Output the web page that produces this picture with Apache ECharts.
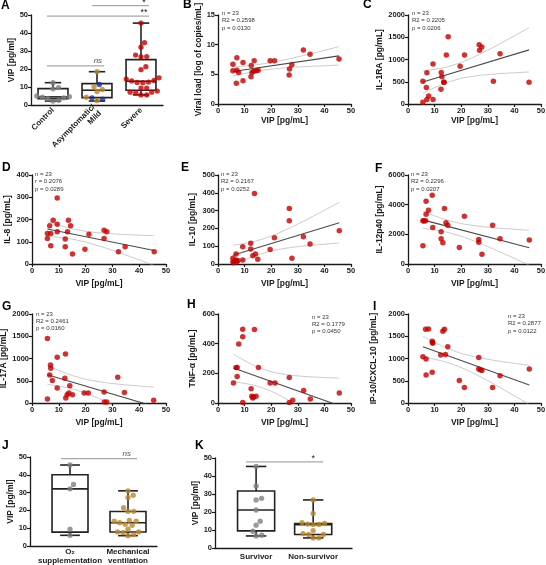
<!DOCTYPE html>
<html><head><meta charset="utf-8">
<script src="https://cdn.jsdelivr.net/npm/echarts@6/dist/echarts.min.js"></script>
<style>html,body{margin:0;padding:0;background:#fff}#c{width:546px;height:565px}</style>
</head><body><div id="c"></div>
<script>
// ================= DATA =================
// Panel A
const groupsA = ['Control', 'Asymptomatic/\nMild', 'Severe'];
const controlVIP = [12.4, 9.7, 9.0, 5.0, 4.6, 4.3, 4.0, 3.5, 2.6, 2.2];
const mildVIPgold = [18.5, 10.2, 8.6, 7.5, 4.3, 2.5];
const mildVIPblue = [11.4, 4.0, 3.2];
const severeVIP = [5.6, 5.6, 6.9, 7.1, 7.1, 7.75, 9.4, 9.4, 12.4, 12.5, 12.75, 13.4, 13.6, 14.4, 15.1, 19.6, 21.25, 26.75, 26.9, 27.75, 32.1, 34.6, 45.5];
// box stats: [min, Q1, median, Q3, max]
const boxA = [[2.2, 3.5, 4.5, 9.1, 12.4], [2.2, 4.1, 8.2, 11.9, 18.5], [5.6, 8.2, 13.2, 25.2, 45.5]];
const sigA = [
  {x1: 0.89, x2: 2.18, y: 55.2, lx: 2.07, text: '*'},
  {x1: -0.14, x2: 2.18, y: 49.4, lx: 2.07, text: '**'},
  {x1: -0.14, x2: 1.16, y: 21.7, lx: 1.02, text: 'ns', italic: true}
];
// Panel B
const vipB = [5.6, 5.6, 6.9, 7.1, 7.1, 7.75, 9.4, 9.4, 12.4, 12.5, 12.75, 13.6, 13.4, 14.4, 15.1, 19.6, 21.25, 26.9, 26.75, 27.75, 32.1, 34.6, 45.5];
const viralLoad = [6.7, 5.6, 3.5, 7.8, 5.7, 5.3, 7.0, 3.9, 4.6, 6.5, 5.3, 7.3, 5.5, 5.6, 5.7, 7.3, 7.3, 5.9, 4.9, 6.6, 9.1, 8.4, 7.6];
const statsB = ['n = 23', 'R2 = 0.2598', 'p = 0.0130'];
// Panel C
const vipC = [5.6, 5.6, 6.9, 7.1, 7.1, 7.75, 9.4, 9.4, 12.4, 12.5, 12.75, 13.4, 13.6, 14.4, 15.1, 19.6, 21.25, 26.75, 26.9, 27.75, 32.1, 34.6, 45.5];
const il1ra = [510, 40, 370, 700, 100, 180, 900, 100, 330, 710, 610, 490, 490, 1100, 1510, 850, 1100, 1330, 1210, 1280, 510, 1130, 490];
const statsC = ['n = 23', 'R2 = 0.2205', 'p = 0.0206'];
// Panel D
const vipD = [5.75, 5.75, 6.6, 7.0, 7.0, 7.9, 9.4, 9.4, 9.4, 12.4, 12.4, 13.25, 13.6, 14.4, 15.1, 19.75, 21.25, 26.9, 26.9, 27.9, 32.25, 34.75, 45.6];
const il8 = [137, 115, 172, 137, 82, 197, 297, 179, 145, 112, 78, 145, 197, 172, 45, 66, 134, 152, 115, 145, 55, 78, 55];
const statsD = ['n = 23', 'r = 0.2076', 'p = 0.0289'];
// Panel E
const vipE = [5.6, 5.6, 5.95, 6.6, 6.8, 7.1, 7.45, 9.3, 9.3, 12.3, 12.3, 13.1, 14.1, 13.7, 14.95, 19.6, 21.2, 26.8, 26.8, 27.8, 32.1, 34.6, 45.6];
const il10 = [32, 13, 7, 22, 56, 13, 19, 97, 22, 116, 84, 47, 56, 396, 26, 82, 147, 312, 243, 32, 153, 112, 187];
const statsE = ['n = 23', 'R2 = 0.2167', 'p = 0.0252'];
// Panel F
const vipF = [5.6, 5.6, 6.0, 6.6, 6.8, 6.8, 7.7, 9.1, 9.3, 12.45, 12.45, 13.1, 13.7, 14.3, 14.95, 19.3, 21.2, 26.6, 26.6, 27.8, 31.8, 34.6, 45.6];
const il12p40 = [1230, 2910, 2900, 2910, 3360, 4230, 3630, 4630, 2460, 2170, 1700, 1430, 3740, 2780, 2620, 1120, 3220, 1660, 1460, 650, 2620, 1700, 1610];
const statsF = ['n = 23', 'R2 = 0.2296', 'p = 0.0207'];
// Panel G
const vipG = [5.75, 5.75, 6.6, 6.9, 7.0, 7.6, 9.4, 9.4, 12.25, 12.5, 12.6, 13.1, 13.75, 14.1, 15.1, 19.5, 21.0, 26.9, 27.0, 27.9, 32.0, 34.5, 45.4];
const il17a = [1450, 90, 632, 855, 780, 505, 1026, 335, 557, 1100, 112, 186, 223, 387, 186, 223, 223, 245, 22, 22, 580, 238, 60];
const statsG = ['n = 23', 'R2 = 0.2461', 'p = 0.0160'];
// Panel H
const vipH = [5.8, 6.8, 7.2, 7.2, 7.8, 9.3, 9.3, 9.3, 12.45, 12.7, 13.1, 13.3, 13.7, 14.3, 15.2, 19.6, 21.45, 26.8, 26.8, 28.1, 32.2, 34.7, 45.6];
const tnfa = [134, 239, 239, 179, 397, 498, 446, 3, 96, 45, 33, 40, 496, 45, 239, 134, 134, 172, 4, 18, 85, 27, 67];
const statsH = ['n = 23', 'R2 = 0.1779', 'p = 0.0450'];
// Panel I
const vipI = [5.6, 6.6, 6.8, 6.8, 7.7, 9.1, 9.2, 9.3, 9.1, 12.3, 13.1, 13.7, 14.1, 14.95, 19.3, 21.2, 26.6, 26.6, 27.2, 27.8, 31.8, 34.6, 45.6];
const ip10 = [1040, 1660, 990, 630, 1665, 1390, 1360, 1340, 690, 1080, 1610, 1660, 1090, 1265, 505, 350, 1020, 765, 750, 730, 350, 610, 765];
const statsI = ['n = 23', 'R2 = 0.2877', 'p = 0.0122'];
// Panel J
const groupsJ = ['O\u2082\nsupplementation', 'Mechanical\nventilation'];
const o2VIP = [45.5, 34.6, 32.1, 9.5, 6.0];
const mechVIP = [31.0, 28.5, 27.2, 21.5, 19.5, 19.5, 14.4, 13.9, 13.9, 13.1, 12.2, 11.6, 9.4, 7.9, 7.9, 7.5, 6.4, 5.8];
const boxJ = [[6.0, 7.8, 32.1, 40.0, 45.5], [5.8, 7.9, 13.1, 19.4, 31.0]];
const sigJ = [{x1: -0.155, x2: 1.155, y: 49.1, lx: 0.98, text: 'ns', italic: true}];
// Panel K
const groupsK = ['Survivor', 'Non-survivor'];
const survivorVIP = [45.3, 34.5, 27.6, 26.7, 21.1, 14.9, 12.7, 9.3, 7.1, 6.7];
const nonSurvivorVIP = [26.7, 19.2, 14.1, 13.6, 13.3, 13.1, 13.1, 9.7, 8.0, 7.5, 7.5, 5.6, 5.6];
const boxK = [[6.7, 9.5, 21.1, 31.7, 45.3], [5.6, 7.5, 12.9, 13.6, 26.7]];
const sigK = [{x1: -0.175, x2: 1.175, y: 47.9, lx: 1.0, text: '*'}];

// ================= STYLE / LAYOUT =================
const FONT = '"Liberation Sans", Arial, Helvetica, sans-serif';
const INK = '#1a1a1a';
const RED = '#c00000', GRAY = '#7f7f7f', GOLD = '#b8862b', BLUE = '#1f2d9b';
const CI = '#c4c4c4';
const LAYOUT = {
  A: {left: 31, top: 15, width: 132, height: 90},
  B: {left: 218, top: 15, width: 133, height: 89},
  C: {left: 408, top: 15, width: 133, height: 89},
  D: {left: 32, top: 175, width: 134, height: 89},
  E: {left: 218, top: 175, width: 133, height: 89},
  F: {left: 408, top: 175, width: 133, height: 89},
  G: {left: 32, top: 314, width: 134, height: 89},
  H: {left: 218, top: 314, width: 133, height: 89},
  I: {left: 408, top: 314, width: 133, height: 89},
  J: {left: 30, top: 457, width: 127, height: 89},
  K: {left: 215, top: 458, width: 137, height: 90}
};
const LETTERS = [['A', 1, 0], ['B', 183, -1], ['C', 363, -1], ['D', 2, 162], ['E', 181, 162], ['F', 375, 163],
  ['G', 2, 301], ['H', 187, 299], ['I', 373, 301], ['J', 2, 440], ['K', 195, 440]];

function merge(a, b) {
  const out = Array.isArray(a) ? a.slice() : Object.assign({}, a);
  for (const k in b) {
    if (b[k] && typeof b[k] === 'object' && !Array.isArray(b[k]) && a && typeof a[k] === 'object') out[k] = merge(a[k], b[k]);
    else out[k] = b[k];
  }
  return out;
}
function axisBase() {
  return {
    axisLine: {show: true, onZero: false, lineStyle: {color: INK, width: 1.3}},
    axisTick: {show: true, length: 3, lineStyle: {color: INK, width: 1.2}},
    axisLabel: {color: INK, fontSize: 7.5, fontWeight: 'bold', fontFamily: FONT, margin: 3, formatter: v => String(v)},
    splitLine: {show: false},
    nameTextStyle: {color: INK, fontSize: 8.5, fontWeight: 'bold', fontFamily: FONT}
  };
}

const grids = [], xAxes = [], yAxes = [], series = [], post = [];
function addGrid(l) {
  grids.push({left: l.left, top: l.top, width: l.width, height: l.height, containLabel: false, outerBoundsMode: 'none'});
  return grids.length - 1;
}

function fit(xs, ys) {
  const n = xs.length;
  const mx = xs.reduce((s, v) => s + v, 0) / n, my = ys.reduce((s, v) => s + v, 0) / n;
  let sxx = 0, sxy = 0;
  for (let i = 0; i < n; i++) { sxx += (xs[i] - mx) ** 2; sxy += (xs[i] - mx) * (ys[i] - my); }
  const b = sxy / sxx, a = my - b * mx;
  let sse = 0;
  for (let i = 0; i < n; i++) sse += (ys[i] - a - b * xs[i]) ** 2;
  const s = Math.sqrt(sse / (n - 2)), t = 2.0796;
  const xsU = Array.from(new Set(xs)).sort((p, q) => p - q);
  const half = x => t * s * Math.sqrt(1 / n + (x - mx) ** 2 / sxx);
  return {
    line: [[xsU[0], a + b * xsU[0]], [xsU[xsU.length - 1], a + b * xsU[xsU.length - 1]]],
    upper: xsU.map(x => [x, a + b * x + half(x)]),
    lower: xsU.map(x => [x, a + b * x - half(x)])
  };
}

function scatterPanel(key, xs, ys, cfg) {
  const i = addGrid(LAYOUT[key]);
  xAxes.push(merge(axisBase(), {gridIndex: i, type: 'value', min: 0, max: 50, interval: 10,
    name: 'VIP [pg/mL]', nameLocation: 'middle', nameGap: cfg.xGap}));
  yAxes.push(merge(axisBase(), {gridIndex: i, type: 'value', min: 0, max: cfg.ymax, interval: cfg.yint,
    name: cfg.yname, nameLocation: 'middle', nameGap: cfg.yGap}));
  const f = fit(xs, ys);
  const common = {type: 'line', xAxisIndex: i, yAxisIndex: i, showSymbol: false, symbol: 'none', silent: true, clip: true};
  series.push(Object.assign({}, common, {data: f.upper, smooth: 0.4, lineStyle: {color: CI, width: 0.9}, z: 2}));
  series.push(Object.assign({}, common, {data: f.lower, smooth: 0.4, lineStyle: {color: CI, width: 0.9}, z: 2}));
  series.push(Object.assign({}, common, {data: f.line, lineStyle: {color: '#4a4a4a', width: 1.1}, z: 3}));
  series.push({type: 'scatter', xAxisIndex: i, yAxisIndex: i, symbolSize: 5.5, silent: true,
    itemStyle: {color: RED}, z: 5, data: xs.map((x, k) => [x, ys[k]])});
  post.push({type: 'text', x: cfg.sx, y: cfg.sy, style: {text: cfg.stats.join('\n'), fontSize: 6, lineHeight: 7.2,
    fontFamily: FONT, fill: '#333', align: 'left', verticalAlign: 'top'}});
}

function swarm(values, colors, pxY, pxX, r) {
  const items = values.map((v, k) => ({v, c: colors[k], y: v * pxY})).sort((p, q) => p.v - q.v);
  const placed = [];
  const d = 2 * r;
  for (const it of items) {
    const cands = [0];
    for (const p of placed) {
      const dy = Math.abs(p.y - it.y);
      if (dy < d) { const dx = Math.sqrt(d * d - dy * dy); cands.push(p.x + dx, p.x - dx); }
    }
    cands.sort((p, q) => Math.abs(p) - Math.abs(q) || q - p);
    for (const cx of cands) {
      if (placed.every(p => (p.x - cx) ** 2 + (p.y - it.y) ** 2 >= d * d - 1e-6)) { it.x = cx; break; }
    }
    placed.push(it);
  }
  return placed.map(p => [p.x / pxX, p.v, p.c]);
}

function boxPanel(key, cfg) {
  const l = LAYOUT[key];
  const i = addGrid(l);
  const xr = cfg.xmax - cfg.xmin;
  xAxes.push(merge(axisBase(), {gridIndex: i, type: 'value', min: cfg.xmin, max: cfg.xmax,
    axisTick: {show: false},
    axisLabel: {customValues: cfg.names.map((_, k) => k), formatter: v => cfg.names[Math.round(v)] || '',
      rotate: cfg.rotate || 0, fontSize: 8, lineHeight: cfg.lh || 9, margin: cfg.lmargin, showMinLabel: true, showMaxLabel: true}}));
  yAxes.push(merge(axisBase(), {gridIndex: i, type: 'value', min: 0, max: 50, interval: 10,
    name: 'VIP [pg/ml]', nameLocation: 'middle', nameGap: cfg.yGap}));
  const frac = cfg.boxFrac, capFrac = 0.55;
  series.push({
    type: 'custom', xAxisIndex: i, yAxisIndex: i, silent: true, z: 2,
    data: cfg.box.map((s, k) => [k].concat(s)),
    renderItem: (params, api) => {
      const c = api.value(0);
      const unit = api.size([1, 0])[0];
      const w = unit * frac, cw = w * capFrac;
      const P = v => api.coord([c, v]);
      const [x, yMin] = P(api.value(1));
      const yQ1 = P(api.value(2))[1], yMed = P(api.value(3))[1], yQ3 = P(api.value(4))[1], yMax = P(api.value(5))[1];
      const st = {stroke: '#222', lineWidth: 1.6, fill: 'none'};
      const L = (x1, y1, x2, y2) => ({type: 'line', shape: {x1, y1, x2, y2}, style: st});
      return {type: 'group', children: [
        {type: 'rect', shape: {x: x - w / 2, y: yQ3, width: w, height: yQ1 - yQ3}, style: st},
        L(x - w / 2, yMed, x + w / 2, yMed),
        L(x, yQ3, x, yMax), L(x, yQ1, x, yMin),
        L(x - cw / 2, yMax, x + cw / 2, yMax), L(x - cw / 2, yMin, x + cw / 2, yMin)
      ]};
    }
  });
  const pxY = l.height / 50, pxX = l.width / xr;
  const pts = [];
  cfg.groups.forEach((g, k) => {
    swarm(g.values, g.colors, pxY, pxX, 2.85).forEach(p => pts.push({value: [k + p[0], p[1]], itemStyle: {color: p[2]}}));
  });
  series.push({type: 'scatter', xAxisIndex: i, yAxisIndex: i, symbolSize: 5.3, silent: true, z: 5, data: pts});
  cfg.sig.forEach(s => post.push({sig: s, axis: i}));
}

// ================= BUILD =================
boxPanel('A', {xmin: -0.5, xmax: 2.5, names: groupsA, rotate: 45, lmargin: 4, yGap: 14, boxFrac: 0.68, box: boxA, sig: sigA,
  groups: [
    {values: controlVIP, colors: controlVIP.map(() => GRAY)},
    {values: mildVIPgold.concat(mildVIPblue), colors: mildVIPgold.map(() => GOLD).concat(mildVIPblue.map(() => BLUE))},
    {values: severeVIP, colors: severeVIP.map(() => RED)}
  ]});
scatterPanel('B', vipB, viralLoad, {ymax: 15, yint: 5, yname: 'Viral load [log of copies/mL]', yGap: 14, xGap: 12, stats: statsB, sx: 222, sy: 10});
scatterPanel('C', vipC, il1ra, {ymax: 2000, yint: 500, yname: 'IL-1RA [pg/mL]', yGap: 22, xGap: 12, stats: statsC, sx: 412, sy: 10});
scatterPanel('D', vipD, il8, {ymax: 400, yint: 100, yname: 'IL-8 [pg/mL]', yGap: 20, xGap: 15, stats: statsD, sx: 35, sy: 171});
scatterPanel('E', vipE, il10, {ymax: 500, yint: 100, yname: 'IL-10 [pg/mL]', yGap: 21, xGap: 15, stats: statsE, sx: 221, sy: 171});
scatterPanel('F', vipF, il12p40, {ymax: 6000, yint: 2000, yname: 'IL-12p40 [pg/mL]', yGap: 24, xGap: 15, stats: statsF, sx: 411, sy: 171});
scatterPanel('G', vipG, il17a, {ymax: 2000, yint: 500, yname: 'IL-17A [pg/mL]', yGap: 22.5, xGap: 15.5, stats: statsG, sx: 36, sy: 310.5});
scatterPanel('H', vipH, tnfa, {ymax: 600, yint: 200, yname: 'TNF-\u03b1 [pg/mL]', yGap: 21, xGap: 15.5, stats: statsH, sx: 312, sy: 313.5});
scatterPanel('I', vipI, ip10, {ymax: 2000, yint: 500, yname: 'IP-10/CXCL-10 [pg/mL]', yGap: 30, xGap: 15.5, stats: statsI, sx: 508, sy: 313});
boxPanel('J', {xmin: -0.69, xmax: 1.5, names: groupsJ, lmargin: 2, lh: 8.5, yGap: 11, boxFrac: 0.62, box: boxJ, sig: sigJ,
  groups: [
    {values: o2VIP, colors: o2VIP.map(() => GRAY)},
    {values: mechVIP, colors: mechVIP.map(() => GOLD)}
  ]});
boxPanel('K', {xmin: -0.72, xmax: 1.68, names: groupsK, lmargin: 4, yGap: 10, boxFrac: 0.65, box: boxK, sig: sigK,
  groups: [
    {values: survivorVIP, colors: survivorVIP.map(() => GRAY)},
    {values: nonSurvivorVIP, colors: nonSurvivorVIP.map(() => GOLD)}
  ]});

const chart = echarts.init(document.getElementById('c'), null, {renderer: 'canvas'});
chart.setOption({animation: false, backgroundColor: '#fff', grid: grids, xAxis: xAxes, yAxis: yAxes, series: series});

const elements = [];
LETTERS.forEach(([t, x, y]) => elements.push({type: 'text', x, y, style: {text: t, fontSize: 12, fontWeight: 'bold',
  fontFamily: FONT, fill: '#000', align: 'left', verticalAlign: 'top'}}));
post.forEach(p => {
  if (!p.sig) { elements.push(p); return; }
  const s = p.sig, f = {xAxisIndex: p.axis, yAxisIndex: p.axis};
  const a = chart.convertToPixel(f, [s.x1, s.y]), b = chart.convertToPixel(f, [s.x2, s.y]);
  const lp = chart.convertToPixel(f, [s.lx, s.y]);
  elements.push({type: 'line', shape: {x1: a[0], y1: a[1], x2: b[0], y2: b[1]}, style: {stroke: '#a8a8a8', lineWidth: 1.2}});
  elements.push({type: 'text', x: lp[0], y: lp[1] - (s.italic ? 1 : -1), style: {text: s.text, fontSize: s.italic ? 8 : 9,
    fontStyle: s.italic ? 'italic' : 'normal', fontFamily: FONT, fill: s.italic ? '#555' : '#222', align: 'center', verticalAlign: 'bottom'}});
});
chart.setOption({graphic: {elements}});
</script>
</body></html>
